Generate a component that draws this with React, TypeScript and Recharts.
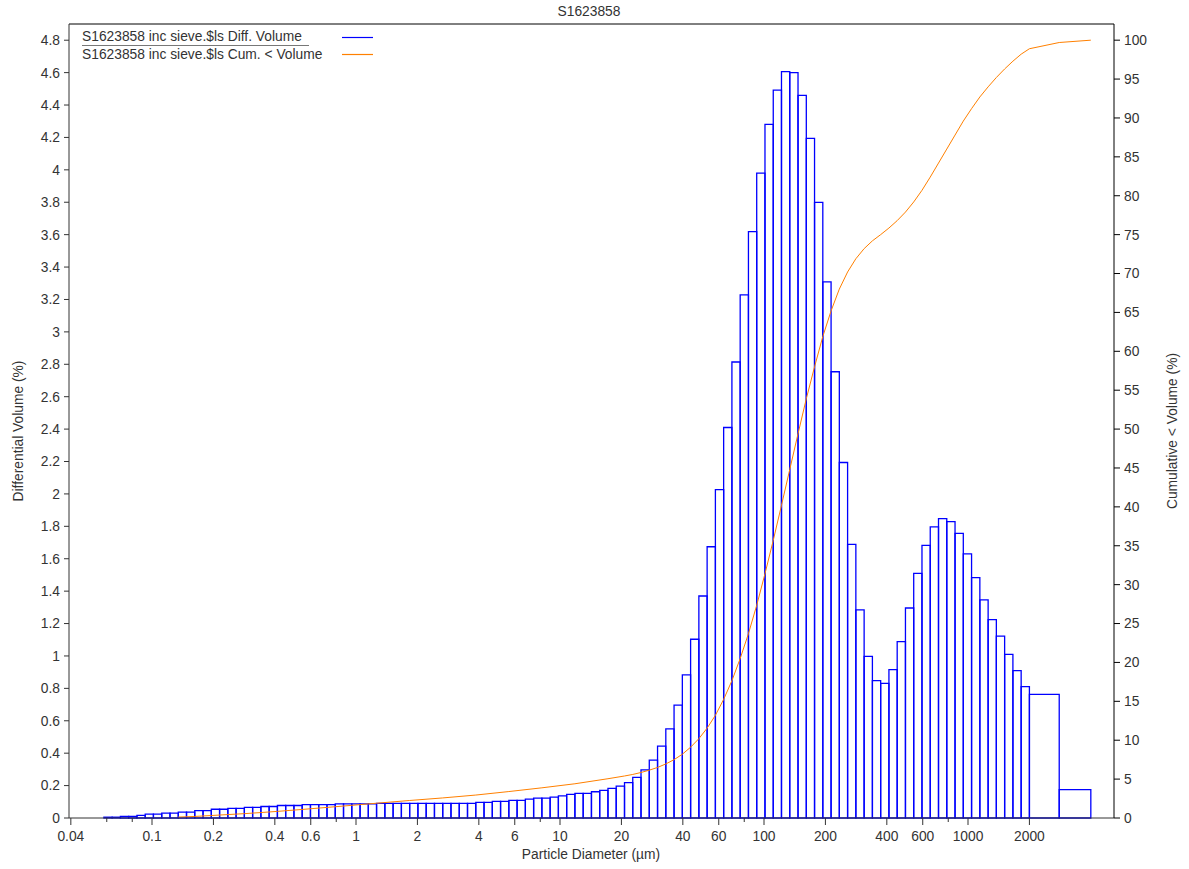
import React from 'react';
import {
  ComposedChart,
  Line,
  XAxis,
  YAxis,
  ReferenceArea,
  ReferenceLine,
  Legend,
} from 'recharts';

// Channel edges of the laser-diffraction size classes (µm)
const binEdges = [
  0.04, 0.04391, 0.0482, 0.05291, 0.05808, 0.06376, 0.06999, 0.07683, 0.08434, 0.09259,
  0.1016, 0.1116, 0.1225, 0.1345, 0.1476, 0.162, 0.1779, 0.1953, 0.2144, 0.2353,
  0.2583, 0.2836, 0.3113, 0.3417, 0.3751, 0.4118, 0.452, 0.4962, 0.5447, 0.598,
  0.6565, 0.7207, 0.7911, 0.8685, 0.9535, 1.047, 1.149, 1.261, 1.385, 1.52,
  1.669, 1.832, 2.011, 2.208, 2.424, 2.661, 2.921, 3.207, 3.52, 3.864,
  4.242, 4.657, 5.112, 5.612, 6.161, 6.763, 7.424, 8.15, 8.946, 9.818,
  10.78, 11.83, 12.99, 14.26, 15.65, 17.18, 18.86, 20.71, 22.73, 24.95,
  27.39, 30.07, 33.01, 36.23, 39.78, 43.67, 47.94, 52.62, 57.77, 63.41,
  69.61, 76.42, 83.89, 92.09, 101.1, 111.0, 121.8, 133.7, 146.8, 161.2,
  176.9, 194.2, 213.2, 234.0, 256.9, 282.0, 309.6, 339.9, 373.1, 409.6,
  449.6, 493.6, 541.8, 594.8, 653.0, 716.8, 786.9, 863.8, 948.3, 1041,
  1143, 1255, 1377, 1512, 1660, 1822, 2000,
];

// Differential volume (%) per channel
const diffVolume = [
  0, 0, 0, 0, 0.005, 0.005, 0.01, 0.01, 0.016, 0.024,
  0.024, 0.03, 0.03, 0.036, 0.036, 0.045, 0.045, 0.054, 0.054, 0.06,
  0.06, 0.066, 0.066, 0.071, 0.071, 0.077, 0.077, 0.077, 0.083, 0.083,
  0.083, 0.083, 0.087, 0.087, 0.087, 0.087, 0.087, 0.09, 0.09, 0.09,
  0.09, 0.09, 0.09, 0.09, 0.09, 0.09, 0.09, 0.09, 0.09, 0.097,
  0.097, 0.103, 0.103, 0.109, 0.109, 0.116, 0.123, 0.123, 0.129, 0.137,
  0.146, 0.152, 0.152, 0.162, 0.17, 0.183, 0.197, 0.218, 0.251, 0.297,
  0.357, 0.444, 0.55, 0.697, 0.883, 1.103, 1.37, 1.674, 2.027, 2.41,
  2.814, 3.228, 3.619, 3.98, 4.28, 4.492, 4.606, 4.6, 4.459, 4.194,
  3.799, 3.308, 2.754, 2.194, 1.689, 1.284, 0.998, 0.848, 0.831, 0.916,
  1.088, 1.296, 1.51, 1.683, 1.796, 1.848, 1.829, 1.757, 1.63, 1.484,
  1.346, 1.224, 1.123, 1.01, 0.909, 0.811,
];

// Sieve fractions above the laser range
const sieveEdges = [2000, 2800, 4000];
const sieveVolume = [0.763, 0.175];

// Cumulative < volume (%) at selected sizes (µm)
const cumSizes = [
  0.1345, 0.162, 0.1953, 0.2353, 0.2836, 0.3417, 0.4118, 0.5447, 0.7911, 1.261,
  1.832, 2.661, 3.864, 5.612, 8.15, 11.83, 17.18, 20.71, 22.73, 24.95,
  27.39, 30.07, 33.01, 36.23, 39.78, 43.67, 47.94, 52.62, 57.77, 63.41,
  69.61, 76.42, 83.89, 92.09, 101.1, 111.0, 121.8, 133.7, 146.8, 161.2,
  176.9, 194.2, 213.2, 234.0, 256.9, 282.0, 309.6, 339.9, 373.1, 409.6,
  449.6, 493.6, 541.8, 594.8, 653.0, 716.8, 786.9, 863.8, 948.3, 1041,
  1143, 1255, 1377, 1512, 1660, 1822, 2000, 2800, 4000,
];
const cumVolume = [
  0.12, 0.2, 0.32, 0.44, 0.56, 0.7, 0.85, 1.1, 1.45, 1.9,
  2.25, 2.58, 2.95, 3.4, 3.88, 4.4, 5.05, 5.4, 5.6, 5.85,
  6.15, 6.5, 6.95, 7.5, 8.2, 9.1, 10.2, 11.55, 13.2, 15.25,
  17.65, 20.5, 23.7, 27.35, 31.4, 35.7, 40.2, 44.8, 49.4, 53.9,
  58.0, 61.9, 65.2, 68.0, 70.2, 71.9, 73.2, 74.2, 75.0, 75.85,
  76.8, 77.9, 79.2, 80.7, 82.4, 84.2, 86.0, 87.8, 89.6, 91.2,
  92.7, 94.0, 95.2, 96.3, 97.3, 98.2, 98.9, 99.7, 100,
];

// Axis ticks
const xTicks = [
  0.04, 0.06, 0.08, 0.1, 0.2, 0.4, 0.6, 0.8, 1, 2, 4, 6, 8, 10, 20, 40, 60, 80,
  100, 200, 400, 600, 800, 1000, 2000,
];
const xTickLabels = [
  '0.04', '', '', '0.1', '0.2', '0.4', '0.6', '', '1', '2', '4', '6', '', '10', '20',
  '40', '60', '', '100', '200', '400', '600', '', '1000', '2000',
];
const leftTicks = [
  0, 0.2, 0.4, 0.6, 0.8, 1, 1.2, 1.4, 1.6, 1.8, 2, 2.2, 2.4, 2.6, 2.8, 3, 3.2, 3.4,
  3.6, 3.8, 4, 4.2, 4.4, 4.6, 4.8,
];
const rightTicks = [
  0, 5, 10, 15, 20, 25, 30, 35, 40, 45, 50, 55, 60, 65, 70, 75, 80, 85, 90, 95, 100,
];

const seriesNames = [
  'S1623858 inc sieve.$ls Diff. Volume',
  'S1623858 inc sieve.$ls Cum. < Volume',
];
const chartTitle = 'S1623858';
const xTitle = 'Particle Diameter (µm)';
const leftTitle = 'Differential Volume (%)';
const rightTitle = 'Cumulative < Volume (%)';

const FONT = '"Liberation Sans", Arial, sans-serif';
const FS = 13.8;
const TEXT = '#333';
const BLUE = '#0000ff';
const ORANGE = '#ff8000';

const cumData = cumSizes.map((s, i) => ({ size: s, cum: cumVolume[i] }));

const bins = [
  ...diffVolume.map((v, i) => ({ x1: binEdges[i], x2: binEdges[i + 1], v })),
  ...sieveVolume.map((v, i) => ({ x1: sieveEdges[i], x2: sieveEdges[i + 1], v })),
].filter((b) => b.v > 0);

const XTick = (props: any) => {
  const { x, y, payload } = props;
  const idx = xTicks.indexOf(payload.value);
  const label = idx >= 0 ? xTickLabels[idx] : '';
  return (
    <g>
      <line x1={x} x2={x} y1={y} y2={y + (label ? 7 : 4)} stroke="#333" strokeWidth={1} />
      {label ? (
        <text x={x} y={y + 23} textAnchor="middle" fill={TEXT} fontSize={FS} fontFamily={FONT}>
          {label}
        </text>
      ) : null}
    </g>
  );
};

const LegendBox = () => (
  <div style={{ position: 'relative', width: 300, height: 36, fontSize: FS, color: TEXT, fontFamily: FONT }}>
    <div
      style={{
        position: 'absolute', left: 0, top: 0, width: 227, height: 17, lineHeight: '17px',
        borderBottom: '1px solid #777', whiteSpace: 'nowrap',
      }}
    >
      {seriesNames[0]}
    </div>
    <div style={{ position: 'absolute', left: 0, top: 18, height: 17, lineHeight: '17px', whiteSpace: 'nowrap' }}>
      {seriesNames[1]}
    </div>
    <svg width={40} height={36} style={{ position: 'absolute', left: 258, top: 0 }}>
      <line x1={2} x2={33} y1={9.5} y2={9.5} stroke={BLUE} strokeWidth={1.2} />
      <line x1={2} x2={33} y1={26.5} y2={26.5} stroke={ORANGE} strokeWidth={1.2} />
    </svg>
  </div>
);

const fmtLeft = (v: number) => String(Number(v.toFixed(1)));

export default function App() {
  return (
    <div
      style={{
        position: 'absolute', left: 0, top: 0, width: 1189, height: 869,
        background: '#fff', fontFamily: FONT, overflow: 'hidden',
      }}
    >
      <ComposedChart
        width={1189}
        height={869}
        data={cumData}
        margin={{ top: 24, right: 15, left: 9, bottom: 21 }}
      >
        <XAxis
          xAxisId="x"
          dataKey="size"
          type="number"
          scale="log"
          domain={[0.03918, 5196]}
          allowDataOverflow
          ticks={xTicks}
          interval={0}
          tickSize={0}
          tickMargin={0}
          tickLine={false}
          tick={<XTick />}
          height={30}
          axisLine={{ stroke: '#333' }}
        />
        <YAxis
          yAxisId="left"
          orientation="left"
          domain={[0, 4.9]}
          allowDataOverflow
          ticks={leftTicks}
          interval={0}
          tickFormatter={fmtLeft}
          width={60}
          tickSize={5}
          tickMargin={4}
          axisLine={{ stroke: '#333' }}
          tickLine={{ stroke: '#333' }}
          tick={{ fill: TEXT, fontSize: FS, fontFamily: FONT }}
        />
        <YAxis
          yAxisId="right"
          orientation="right"
          domain={[0, 102.08]}
          allowDataOverflow
          ticks={rightTicks}
          interval={0}
          width={60}
          tickSize={6}
          tickMargin={4}
          axisLine={{ stroke: '#000' }}
          tickLine={{ stroke: '#000' }}
          tick={{ fill: TEXT, fontSize: FS, fontFamily: FONT }}
        />
        <ReferenceLine xAxisId="x" yAxisId="left" y={4.9} stroke="#000" strokeWidth={1} ifOverflow="visible" />
        {bins.map((b, i) => (
          <ReferenceArea
            key={i}
            xAxisId="x"
            yAxisId="left"
            x1={b.x1}
            x2={b.x2}
            y1={0}
            y2={b.v}
            fill="#ffffff"
            fillOpacity={0}
            stroke={BLUE}
            strokeWidth={1.3}
            strokeOpacity={1}
            ifOverflow="visible"
          />
        ))}
        <Line
          xAxisId="x"
          yAxisId="right"
          dataKey="cum"
          type="linear"
          stroke={ORANGE}
          strokeWidth={1}
          dot={false}
          activeDot={false}
          isAnimationActive={false}
        />
        <Legend
          layout="vertical"
          align="center"
          verticalAlign="middle"
          wrapperStyle={{ position: 'absolute', left: 82, top: 28, width: 300, height: 36 }}
          content={() => <LegendBox />}
        />
      </ComposedChart>
      <div
        style={{
          position: 'absolute', left: 489, top: 3, width: 200, textAlign: 'center',
          fontSize: FS, color: TEXT, lineHeight: '17px',
        }}
      >
        {chartTitle}
      </div>
      <div
        style={{
          position: 'absolute', left: 441, top: 846, width: 300, textAlign: 'center',
          fontSize: FS, color: TEXT, lineHeight: '17px',
        }}
      >
        {xTitle}
      </div>
      <div
        style={{
          position: 'absolute', left: 18, top: 431, transform: 'translate(-50%, -50%) rotate(-90deg)',
          fontSize: FS, color: TEXT, whiteSpace: 'nowrap', lineHeight: '17px',
        }}
      >
        {leftTitle}
      </div>
      <div
        style={{
          position: 'absolute', left: 1172, top: 431, transform: 'translate(-50%, -50%) rotate(-90deg)',
          fontSize: FS, color: TEXT, whiteSpace: 'nowrap', lineHeight: '17px',
        }}
      >
        {rightTitle}
      </div>
    </div>
  );
}
